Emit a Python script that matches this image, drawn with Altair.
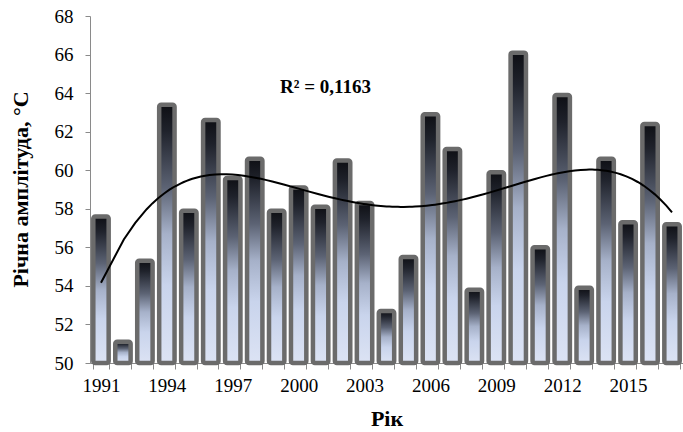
import altair as alt
import pandas as pd

years = list(range(1991, 2018))
values = [57.6, 51.1, 55.3, 63.4, 57.9, 62.6, 59.6, 60.6, 57.9, 59.1,
          58.1, 60.5, 58.3, 52.7, 55.5, 62.9, 61.1, 53.8, 59.9, 66.1,
          56.0, 63.9, 53.9, 60.6, 57.3, 62.4, 57.2]
y_ticks = [50, 52, 54, 56, 58, 60, 62, 64, 66, 68]
r2_label = ["R² = 0,1163"]

df = pd.DataFrame({"year": years, "value": values})

FONT = "Liberation Serif"

grad = alt.Gradient(
    gradient="linear", x1=0, x2=0, y1=0, y2=1,
    stops=[
        alt.GradientStop(color="#0e0f14", offset=0),
        alt.GradientStop(color="#1f222b", offset=0.1),
        alt.GradientStop(color="#5c6374", offset=0.32),
        alt.GradientStop(color="#a6b1c9", offset=0.5),
        alt.GradientStop(color="#c9d4ec", offset=0.7),
        alt.GradientStop(color="#dce3f4", offset=1),
    ],
)

yscale = alt.Scale(domain=[50, 68], zero=False, nice=False)

bars = alt.Chart(df).mark_bar(
    color=grad, stroke="#6b6b6b", strokeWidth=4.5, cornerRadius=2
).encode(
    x=alt.X("year:O", title="Рік",
            scale=alt.Scale(paddingInner=0.3, paddingOuter=0.15),
            axis=alt.Axis(
                labelAngle=0, tickBand="extent", tickSize=6,
                labelExpr="(datum.value - 1991) % 3 == 0 ? datum.label : ''",
                labelFont=FONT, labelFontSize=19, labelColor="black",
                labelPadding=7,
                titleFont=FONT, titleFontSize=22, titleFontWeight="bold",
                titleColor="black", titleY=55, titleBaseline="middle",
                domainColor="#8a8a8a", tickColor="#8a8a8a",
            )),
    y=alt.Y("value:Q", scale=yscale, title="Річна амплітуда, °C",
            axis=alt.Axis(
                values=y_ticks, grid=False, tickSize=5, labelOverlap=False,
                labelFont=FONT, labelFontSize=19, labelColor="black",
                labelPadding=12,
                titleFont=FONT, titleFontSize=22, titleFontWeight="bold",
                titleColor="black", titleX=-58, titleY=173,
                domainColor="#8a8a8a", tickColor="#8a8a8a",
            )),
    y2=alt.datum(50),
)

xline = alt.Scale(domain=[1990.5, 2017.5], nice=False, zero=False)

trend = alt.Chart(df).transform_regression(
    "year", "value", method="poly", order=4, extent=[1991, 2017]
).mark_line(color="black", strokeWidth=2).encode(
    x=alt.X("year:Q", scale=xline, axis=None),
    y=alt.Y("value:Q", scale=yscale, axis=None),
)

label = alt.Chart(pd.DataFrame({"t": r2_label})).mark_text(
    font=FONT, fontSize=19, fontWeight="bold", align="left",
    baseline="middle", color="black"
).encode(
    x=alt.XDatum(1999.15, scale=xline, axis=None),
    y=alt.YDatum(64.3, scale=yscale, axis=None),
    text="t:N",
)

chart = alt.layer(bars, trend, label).resolve_scale(
    x="independent"
).resolve_axis(x="independent", y="independent").properties(
    width=593, height=347,
    autosize=alt.AutoSizeParams(type="none"),
    padding={"left": 90, "top": 16, "right": 0, "bottom": 69},
).configure_view(stroke=None)

chart.save("out.html", embed_options={"renderer": "svg", "actions": False})
